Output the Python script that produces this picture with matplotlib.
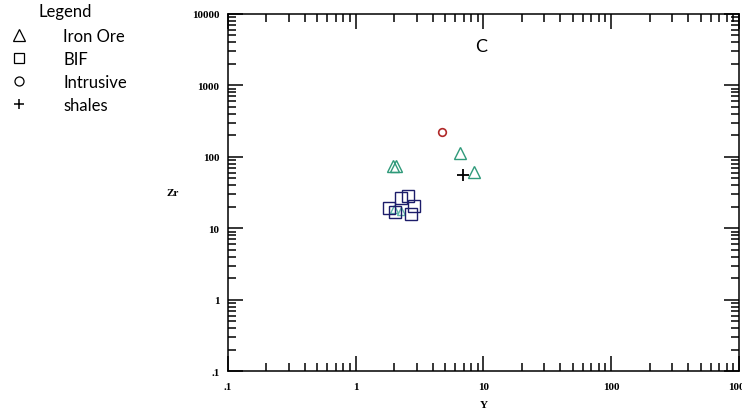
import matplotlib.pyplot as plt
import matplotlib.ticker as mticker
from matplotlib.lines import Line2D
import numpy as np

# Sample compositions (Y vs Zr, ppm)
iron_ore_y = [1.95, 2.08, 6.5, 8.5]
iron_ore_zr = [75, 75, 112, 62]
iron_ore_small_y = [1.99, 2.25]
iron_ore_small_zr = [18.6, 17.6]
bif_y = [1.84, 2.25, 2.59, 2.85, 2.72, 2.04]
bif_zr = [19.0, 26.5, 28.0, 20.3, 15.8, 16.7]
intrusive_y = [4.7]
intrusive_zr = [220]
shales_y = [6.9]
shales_zr = [55]

legend_labels = ['Iron Ore', 'BIF', 'Intrusive', 'shales']
decade_labels = {0.1: '.1', 1: '1', 10: '10', 100: '100', 1000: '1000', 10000: '10000'}

fig = plt.figure(figsize=(7.42, 4.14), dpi=100)
ax = fig.add_axes([0.307, 0.101, 0.689, 0.863])

ax.plot(iron_ore_y, iron_ore_zr, linestyle='none', marker='^', markersize=9,
        markerfacecolor='none', markeredgecolor='#2f9a7a', markeredgewidth=1.0)
ax.plot(iron_ore_small_y, iron_ore_small_zr, linestyle='none', marker='^', markersize=6,
        markerfacecolor='none', markeredgecolor='#5fb8a8', markeredgewidth=1.0)
ax.plot(bif_y, bif_zr, linestyle='none', marker='s', markersize=8.5,
        markerfacecolor='none', markeredgecolor='#1c1c6a', markeredgewidth=1.0)
ax.plot(intrusive_y, intrusive_zr, linestyle='none', marker='o', markersize=5.5,
        markerfacecolor='none', markeredgecolor='#b02828', markeredgewidth=1.2)
ax.plot(shales_y, shales_zr, linestyle='none', marker='+', markersize=9,
        markeredgecolor='black', markeredgewidth=1.3)

ax.set_xscale('log')
ax.set_yscale('log')
ax.set_xlim(0.1, 1000)
ax.set_ylim(0.1, 10000)

tick_font = dict(family='Liberation Serif', weight='bold', size=8)
fmt = mticker.FuncFormatter(lambda v, p: decade_labels.get(round(v, 4), ''))
for axis in (ax.xaxis, ax.yaxis):
    axis.set_major_locator(mticker.LogLocator(base=10, numticks=10))
    axis.set_minor_locator(mticker.LogLocator(base=10, subs=np.arange(2, 10), numticks=10))
    axis.set_major_formatter(fmt)
    axis.set_minor_formatter(mticker.NullFormatter())
ax.tick_params(which='both', direction='in', top=True, right=True, color='black')
ax.tick_params(which='major', length=11, width=1.1)
ax.tick_params(axis='x', which='major', pad=8)
ax.tick_params(axis='y', which='major', pad=6)
ax.tick_params(which='minor', length=5.5, width=1.1)
for lbl in ax.get_xticklabels() + ax.get_yticklabels():
    lbl.set_fontfamily('Liberation Serif')
    lbl.set_fontweight('bold')
    lbl.set_fontsize(8)
for s in ax.spines.values():
    s.set_linewidth(1.1)

ax.set_xlabel('Y', fontdict=tick_font, labelpad=6)
ax.set_ylabel('Zr', fontdict=tick_font, rotation=0, labelpad=14, va='center')

ax.text(0.495, 0.91, 'C', transform=ax.transAxes, fontsize=13,
        family='Lato', ha='center', va='center')

# Legend block in the upper left corner
fig.text(38 / 742, 1 - 12 / 414, 'Legend', family='Lato', fontsize=12,
         ha='left', va='center')
handles = [
    Line2D([], [], linestyle='none', marker='^', markersize=8.5, markerfacecolor='none',
           markeredgecolor='black', markeredgewidth=0.9),
    Line2D([], [], linestyle='none', marker='s', markersize=6.5, markerfacecolor='none',
           markeredgecolor='black', markeredgewidth=0.9),
    Line2D([], [], linestyle='none', marker='o', markersize=6.5, markerfacecolor='none',
           markeredgecolor='black', markeredgewidth=0.9),
    Line2D([], [], linestyle='none', marker='+', markersize=7.5,
           markeredgecolor='black', markeredgewidth=1.1),
]
fig.legend(handles, legend_labels, loc='upper left', bbox_to_anchor=(0.0, 0.958),
           frameon=False, prop={'family': 'Lato', 'size': 12},
           handlelength=0.9, handletextpad=2.2, labelspacing=0.42, borderpad=0.2)

fig.savefig('out.png', dpi=100)
